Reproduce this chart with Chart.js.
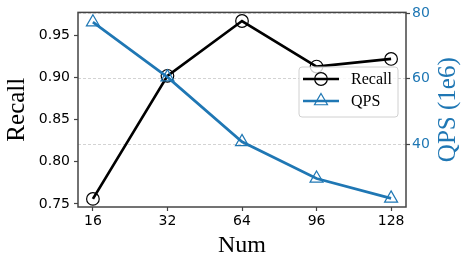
<!DOCTYPE html>
<html lang="en">
<head>
    <meta charset="UTF-8">
    <title>Recall / QPS vs Num</title>
    <script src="https://cdn.jsdelivr.net/npm/chart.js"></script>
    <style>
        html, body {
            margin: 0;
            padding: 0;
            background: #fff;
        }
        #wrap {
            width: 468px;
            height: 265px;
        }
    </style>
</head>
<body>
    <div id="wrap">
        <canvas id="chart" width="468" height="265"></canvas>
    </div>

    <script>
        // data
        const nums = [16, 32, 64, 96, 128];
        const recall = [0.756, 0.902, 0.967, 0.913, 0.922];
        const qps = [77.3, 60.5, 40.7, 29.5, 23.4];
        const recallTicks = [0.75, 0.80, 0.85, 0.90, 0.95];
        const qpsTicks = [40, 60, 80];

        const BLUE = '#1f77b4';
        const FRAME = '#444';
        const SERIF = '"Liberation Serif", "DejaVu Serif", serif';
        const SANS = '"DejaVu Sans", sans-serif';

        // frame, right axis title (reads bottom-to-top) and legend inside the plot
        const framePlugin = {
            id: 'frame',
            afterDatasetsDraw(chart) {
                const { ctx, chartArea: a } = chart;
                ctx.save();
                ctx.strokeStyle = FRAME;
                ctx.lineWidth = 1.5;
                ctx.strokeRect(a.left, a.top, a.right - a.left, a.bottom - a.top);

                // right axis title
                ctx.save();
                ctx.translate(448.5, (a.top + a.bottom) / 2);
                ctx.rotate(-Math.PI / 2);
                ctx.fillStyle = BLUE;
                ctx.font = '25px ' + SERIF;
                ctx.textAlign = 'center';
                ctx.textBaseline = 'middle';
                ctx.fillText('QPS (1e6)', 0, 0);
                ctx.restore();

                // legend box
                const bx = 299, by = 67, bw = 99, bh = 50;
                ctx.beginPath();
                ctx.roundRect(bx, by, bw, bh, 3);
                ctx.fillStyle = 'rgba(255,255,255,0.8)';
                ctx.fill();
                ctx.strokeStyle = '#d0d0d0';
                ctx.lineWidth = 1;
                ctx.stroke();

                const rows = [
                    { ds: chart.data.datasets[0], y: 79 },
                    { ds: chart.data.datasets[1], y: 101 }
                ];
                rows.forEach(r => {
                    ctx.strokeStyle = r.ds.borderColor;
                    ctx.lineWidth = r.ds.borderWidth;
                    ctx.beginPath();
                    ctx.moveTo(303, r.y);
                    ctx.lineTo(339, r.y);
                    ctx.stroke();
                    ctx.fillStyle = 'rgba(0,0,0,0)';
                    ctx.strokeStyle = r.ds.pointBorderColor;
                    ctx.lineWidth = r.ds.pointBorderWidth;
                    Chart.helpers.drawPoint(ctx, {
                        pointStyle: r.ds.pointStyle,
                        radius: r.ds.pointRadius,
                        borderWidth: r.ds.pointBorderWidth,
                        rotation: 0
                    }, 321, r.y);
                    ctx.fillStyle = '#000';
                    ctx.font = '16px ' + SERIF;
                    ctx.textBaseline = 'middle';
                    ctx.textAlign = 'left';
                    ctx.fillText(r.ds.label, 351, r.y + 1);
                });
                ctx.restore();
            }
        };

        const ctx = document.getElementById('chart').getContext('2d');
        new Chart(ctx, {
            type: 'line',
            data: {
                datasets: [{
                    label: 'Recall',
                    data: recall.map((v, i) => ({ x: i, y: v })),
                    yAxisID: 'y',
                    borderColor: '#000',
                    borderWidth: 2.7,
                    pointStyle: 'circle',
                    pointRadius: 6.3,
                    pointBorderWidth: 1.2,
                    pointBorderColor: '#000',
                    pointBackgroundColor: 'rgba(0,0,0,0)',
                    tension: 0,
                    clip: false,
                    order: 1
                }, {
                    label: 'QPS',
                    data: qps.map((v, i) => ({ x: i, y: v })),
                    yAxisID: 'y1',
                    borderColor: BLUE,
                    borderWidth: 2.7,
                    pointStyle: 'triangle',
                    pointRadius: 7.5,
                    pointBorderWidth: 1.2,
                    pointBorderColor: BLUE,
                    pointBackgroundColor: 'rgba(0,0,0,0)',
                    tension: 0,
                    clip: false,
                    order: 0
                }]
            },
            options: {
                responsive: false,
                animation: false,
                layout: { padding: { top: 12, left: 0, right: 0, bottom: 0 } },
                plugins: {
                    legend: { display: false },
                    tooltip: { enabled: false }
                },
                scales: {
                    x: {
                        type: 'linear',
                        min: -0.2,
                        max: 4.2,
                        afterBuildTicks: s => { s.ticks = nums.map((n, i) => ({ value: i })); },
                        afterFit: s => { s.height = 58; },
                        ticks: {
                            callback: v => nums[v],
                            color: '#000',
                            font: { family: SANS, size: 14 },
                            padding: 2,
                            maxRotation: 0
                        },
                        grid: { drawOnChartArea: false, tickLength: 4, tickColor: FRAME, tickWidth: 1.2 },
                        border: { display: false },
                        title: {
                            display: true,
                            text: 'Num',
                            color: '#000',
                            font: { family: SERIF, size: 24, lineHeight: 1.2 },
                            padding: { top: 0, bottom: 5 }
                        }
                    },
                    y: {
                        position: 'left',
                        min: 0.7464,
                        max: 0.9772,
                        afterBuildTicks: s => { s.ticks = recallTicks.map(v => ({ value: v })); },
                        afterFit: s => { s.width = 78; },
                        ticks: {
                            callback: v => v.toFixed(2),
                            color: '#000',
                            font: { family: SANS, size: 14 },
                            padding: 4
                        },
                        grid: { drawOnChartArea: false, tickLength: 4, tickColor: FRAME, tickWidth: 1.2 },
                        border: { display: false },
                        title: {
                            display: true,
                            text: 'Recall',
                            color: '#000',
                            font: { family: SERIF, size: 25, lineHeight: 1.2 },
                            padding: { top: 2, bottom: 0 }
                        }
                    },
                    y1: {
                        position: 'right',
                        min: 20.76,
                        max: 80.3,
                        afterBuildTicks: s => { s.ticks = qpsTicks.map(v => ({ value: v })); },
                        afterFit: s => { s.width = 62; },
                        ticks: {
                            color: BLUE,
                            font: { family: SANS, size: 14 },
                            padding: 2
                        },
                        grid: {
                            drawOnChartArea: true,
                            color: '#c8c8c8',
                            lineWidth: 0.8,
                            tickLength: 4,
                            tickColor: FRAME,
                            tickWidth: 1.2,
                            tickBorderDash: []
                        },
                        border: { display: false, dash: [3, 2] },
                        title: { display: false }
                    }
                }
            },
            plugins: [framePlugin]
        });
    </script>
</body>
</html>
